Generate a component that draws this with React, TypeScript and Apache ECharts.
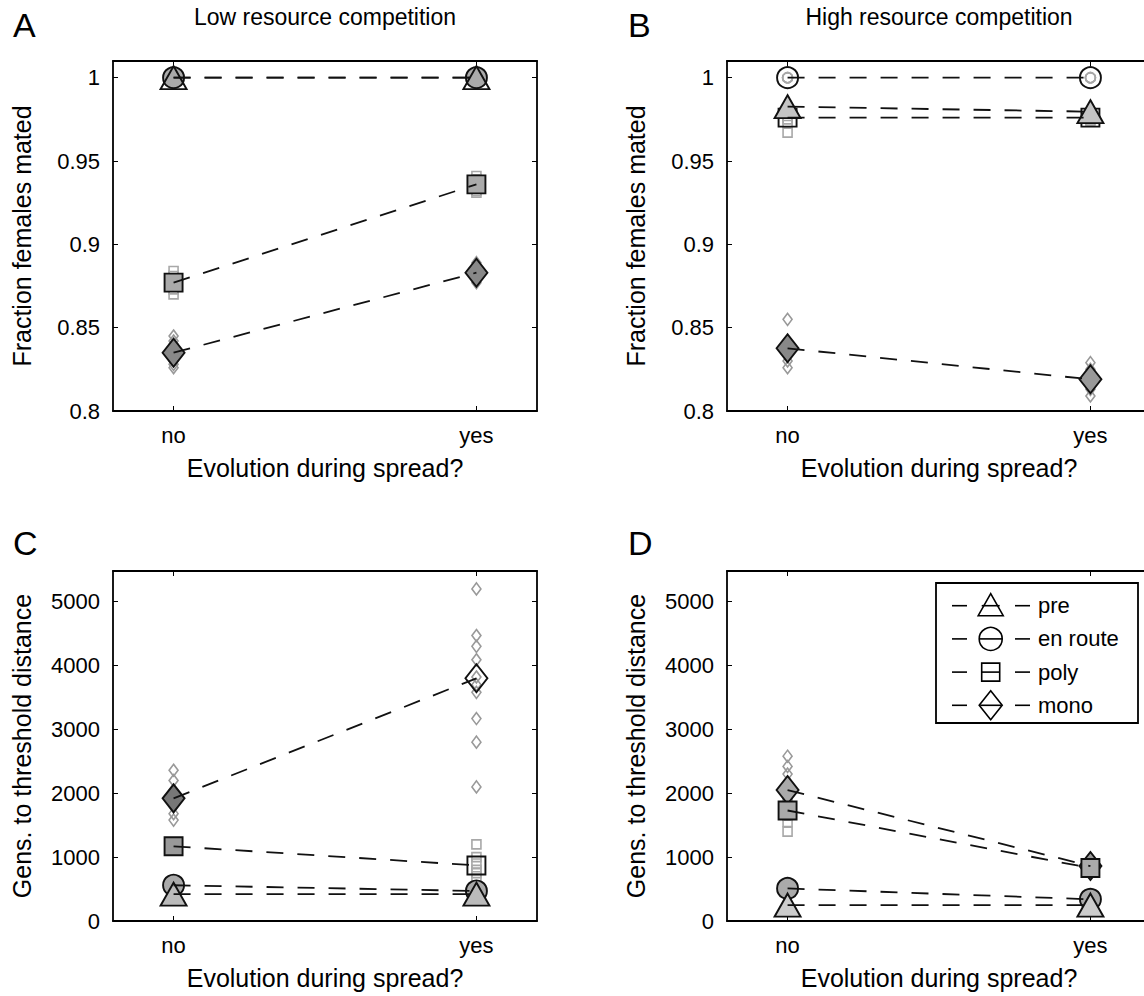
import React, { useEffect, useRef } from "react";
import * as echarts from "echarts";

// ---------- data ----------
const categories = ["no", "yes"];
const xPositions = [0, 1];
const groupNames = ["pre", "en route", "poly", "mono"];
const panelTitles = ["Low resource competition", "High resource competition"];
const panelLetters = ["A", "B", "C", "D"];
const yNames = ["Fraction females mated", "Fraction females mated", "Gens. to threshold distance", "Gens. to threshold distance"];
const xName = "Evolution during spread?";
const fracTicks = [0.8, 0.85, 0.9, 0.95, 1];
const gensTicks = [0, 1000, 2000, 3000, 4000, 5000];

// Panel A (low competition, fraction mated)
const aPreMean = [1.0, 1.0];
const aPreNo = [1.0, 1.0, 1.0];
const aPreYes = [1.0, 1.0, 1.0];
const aEnrouteMean = [1.0, 1.0];
const aEnrouteNo = [1.0, 1.0, 1.0];
const aEnrouteYes = [1.0, 1.0, 1.0];
const aPolyMean = [0.877, 0.936];
const aPolyNo = [0.884, 0.881, 0.879, 0.877, 0.876, 0.875, 0.873, 0.870];
const aPolyYes = [0.941, 0.939, 0.937, 0.935, 0.934, 0.932, 0.931];
const aMonoMean = [0.835, 0.883];
const aMonoNo = [0.845, 0.842, 0.840, 0.837, 0.834, 0.832, 0.830, 0.828, 0.826];
const aMonoYes = [0.889, 0.887, 0.885, 0.883, 0.881, 0.879, 0.877];

// Panel B (high competition, fraction mated)
const bPreMean = [0.9826, 0.9796];
const bPreNo = [0.986, 0.984, 0.982, 0.980, 0.979];
const bPreYes = [0.983, 0.981, 0.979, 0.977];
const bEnrouteMean = [1.0, 1.0];
const bEnrouteNo = [1.0, 1.0, 1.0];
const bEnrouteYes = [1.0, 1.0, 1.0];
const bPolyMean = [0.976, 0.976];
const bPolyNo = [0.979, 0.977, 0.975, 0.973, 0.967];
const bPolyYes = [0.978, 0.976, 0.975, 0.974];
const bMonoMean = [0.8376, 0.819];
const bMonoNo = [0.855, 0.842, 0.839, 0.836, 0.833, 0.830, 0.826];
const bMonoYes = [0.829, 0.825, 0.822, 0.819, 0.816, 0.813, 0.809];

// Panel C (low competition, generations)
const cPreMean = [420, 420];
const cPreNo = [380, 400, 430, 450];
const cPreYes = [410, 430, 440];
const cEnrouteMean = [560, 470];
const cEnrouteNo = [520, 560, 600];
const cEnrouteYes = [440, 460, 490];
const cPolyMean = [1170, 870];
const cPolyNo = [1120, 1160, 1200, 1220];
const cPolyYes = [1200, 1000, 900, 800, 750, 700];
const cMonoMean = [1920, 3800];
const cMonoNo = [2360, 2200, 2000, 1900, 1800, 1680, 1580];
const cMonoYes = [5200, 4470, 4300, 4090, 3820, 3700, 3580, 3170, 2800, 2100];

// Panel D (high competition, generations)
const dPreMean = [250, 250];
const dPreNo = [230, 260, 280];
const dPreYes = [240, 260];
const dEnrouteMean = [510, 340];
const dEnrouteNo = [480, 520, 540];
const dEnrouteYes = [320, 350, 360];
const dPolyMean = [1730, 830];
const dPolyNo = [1400, 1550, 1650, 1800, 1900, 2000];
const dPolyYes = [780, 820, 860, 900];
const dMonoMean = [2050, 860];
const dMonoNo = [2580, 2420, 2300, 2150, 1950, 1850];
const dMonoYes = [980, 920, 860, 800, 740];

// ---------- styles ----------
const FONT = "'Liberation Sans', Arial, Helvetica, sans-serif";
const T = "rgba(0,0,0,0)";
const TICK_FS = 22;
const NAME_FS = 25;
const shapes = ["triangle", "circle", "rect", "diamond"];
const meanSizes: any[] = [[26, 23], 21, 18, [22, 28]];
const repSizes: any[] = [[11, 10], 10, 9, [9, 12]];
const repColors = ["#a8a8a8", "#a8a8a8", "#a8a8a8", "#999999"];
const meanFills = [
  [[T, T], ["#aaa", "#aaa"], ["#aaa", "#aaa"], ["#888", "#888"]],
  [["#c4c4c4", "#c4c4c4"], [T, T], [T, T], ["#888", "#999"]],
  [["#bbb", "#bbb"], ["#aaa", "#aaa"], ["#999", T], ["#777", T]],
  [["#ccc", "#ccc"], ["#aaa", "#aaa"], ["#aaa", "#aaa"], ["#aaa", "#999"]],
];
const grids = [
  { left: 113, top: 61, width: 424, height: 350 },
  { left: 727, top: 61, width: 424, height: 350 },
  { left: 113, top: 571, width: 424, height: 350 },
  { left: 727, top: 571, width: 424, height: 350 },
];
const yRanges = [[0.8, 1.01], [0.8, 1.01], [0, 5480], [0, 5480]];

const panels = [
  {
    means: [aPreMean, aEnrouteMean, aPolyMean, aMonoMean],
    no: [aPreNo, aEnrouteNo, aPolyNo, aMonoNo],
    yes: [aPreYes, aEnrouteYes, aPolyYes, aMonoYes],
  },
  {
    means: [bPreMean, bEnrouteMean, bPolyMean, bMonoMean],
    no: [bPreNo, bEnrouteNo, bPolyNo, bMonoNo],
    yes: [bPreYes, bEnrouteYes, bPolyYes, bMonoYes],
  },
  {
    means: [cPreMean, cEnrouteMean, cPolyMean, cMonoMean],
    no: [cPreNo, cEnrouteNo, cPolyNo, cMonoNo],
    yes: [cPreYes, cEnrouteYes, cPolyYes, cMonoYes],
  },
  {
    means: [dPreMean, dEnrouteMean, dPolyMean, dMonoMean],
    no: [dPreNo, dEnrouteNo, dPolyNo, dMonoNo],
    yes: [dPreYes, dEnrouteYes, dPolyYes, dMonoYes],
  },
];

const textStyle = { color: "#000", fontFamily: FONT };

function buildOption() {
  const xAxis: any[] = [];
  const yAxis: any[] = [];
  const series: any[] = [];
  grids.forEach((g, p) => {
    const ticks = p < 2 ? fracTicks : gensTicks;
    xAxis.push({
      type: "value", gridIndex: p, position: "bottom", min: -0.2, max: 1.2,
      splitLine: { show: false },
      axisLine: { show: true, onZero: false, lineStyle: { color: "#000", width: 1.8 } },
      axisTick: { show: true, inside: true, length: 5, customValues: xPositions, lineStyle: { color: "#000", width: 1 } },
      axisLabel: { customValues: xPositions, formatter: (v: number) => categories[Math.round(v)], margin: 13, fontSize: TICK_FS, ...textStyle },
      name: xName, nameLocation: "middle", nameGap: 44, nameTextStyle: { fontSize: NAME_FS, ...textStyle },
    });
    xAxis.push({
      type: "value", gridIndex: p, position: "top", min: -0.2, max: 1.2,
      splitLine: { show: false },
      axisLine: { show: true, onZero: false, lineStyle: { color: "#000", width: 1.8 } },
      axisTick: { show: true, inside: true, length: 5, customValues: xPositions, lineStyle: { color: "#000", width: 1 } },
      axisLabel: { show: false },
    });
    yAxis.push({
      type: "value", gridIndex: p, position: "left", min: yRanges[p][0], max: yRanges[p][1],
      splitLine: { show: false },
      axisLine: { show: true, onZero: false, lineStyle: { color: "#000", width: 1.8 } },
      axisTick: { show: true, inside: true, length: 5, customValues: ticks, lineStyle: { color: "#000", width: 1 } },
      axisLabel: { customValues: ticks, formatter: (v: number) => String(Number(v.toFixed(2))), margin: 13, fontSize: TICK_FS, ...textStyle },
      name: yNames[p], nameLocation: "middle", nameGap: 79, nameRotate: 90, nameTextStyle: { fontSize: NAME_FS, ...textStyle },
    });
    yAxis.push({
      type: "value", gridIndex: p, position: "right", min: yRanges[p][0], max: yRanges[p][1],
      splitLine: { show: false },
      axisLine: { show: true, onZero: false, lineStyle: { color: "#000", width: 1.8 } },
      axisTick: { show: true, inside: true, length: 5, customValues: ticks, lineStyle: { color: "#000", width: 1 } },
      axisLabel: { show: false },
    });
    const panel = panels[p];
    const order = [3, 2, 1, 0];
    order.forEach((gi) => {
      const reps = panel.no[gi].map((v) => [0, v]).concat(panel.yes[gi].map((v) => [1, v]));
      series.push({
        type: "scatter", name: groupNames[gi] + " reps", xAxisIndex: 2 * p, yAxisIndex: 2 * p, z: 2,
        symbol: shapes[gi], symbolSize: repSizes[gi], data: reps, silent: true,
        itemStyle: { color: T, borderColor: repColors[gi], borderWidth: 1.6, opacity: 1 },
      });
    });
    order.forEach((gi) => {
      const m = panel.means[gi];
      series.push({
        type: "scatter", name: groupNames[gi], xAxisIndex: 2 * p, yAxisIndex: 2 * p, z: 3,
        symbol: shapes[gi], symbolSize: meanSizes[gi], silent: true,
        data: xPositions.map((x, i) => ({ value: [x, m[i]], itemStyle: { color: meanFills[p][gi][i] } })),
        itemStyle: { borderColor: "#111", borderWidth: 1.9, opacity: 1 },
      });
    });
    order.forEach((gi) => {
      const m = panel.means[gi];
      series.push({
        type: "line", name: groupNames[gi] + " line", xAxisIndex: 2 * p, yAxisIndex: 2 * p, z: 4,
        symbol: "none", silent: true,
        data: xPositions.map((x, i) => [x, m[i]]),
        lineStyle: { color: "#111", width: 1.8, type: [17, 14] },
      });
    });
  });

  const graphic: any[] = [];
  const letterPos = [[13, 8], [628, 8], [13, 526], [628, 526]];
  panelLetters.forEach((L, i) => {
    graphic.push({ type: "text", left: letterPos[i][0], top: letterPos[i][1], style: { text: L, fontSize: 34, fill: "#000", fontFamily: FONT } });
  });
  graphic.push({ type: "text", x: 325, y: 17, style: { text: panelTitles[0], fontSize: 23, fill: "#000", fontFamily: FONT, align: "center", verticalAlign: "middle" } });
  graphic.push({ type: "text", x: 939, y: 17, style: { text: panelTitles[1], fontSize: 23, fill: "#000", fontFamily: FONT, align: "center", verticalAlign: "middle" } });

  // legend (panel D)
  const lx = 936, ly = 583, lw = 202, lh = 140;
  graphic.push({ type: "rect", shape: { x: lx, y: ly, width: lw, height: lh }, style: { fill: "#fff", stroke: "#000", lineWidth: 1.8 }, z: 10 });
  groupNames.forEach((name, i) => {
    const cy = 605.7 + i * 33.2;
    const cx = 990.7;
    const lineStyle = { stroke: "#000", lineWidth: 1.6 };
    graphic.push({ type: "line", shape: { x1: 952, y1: cy, x2: 967, y2: cy }, style: lineStyle, z: 11 });
    graphic.push({ type: "line", shape: { x1: 1015, y1: cy, x2: 1030, y2: cy }, style: lineStyle, z: 11 });
    const mStyle = { fill: "#fff", stroke: "#000", lineWidth: 1.6 };
    if (i === 0) {
      graphic.push({ type: "polygon", shape: { points: [[cx, cy - 12], [cx - 12.5, cy + 10], [cx + 12.5, cy + 10]] }, style: mStyle, z: 11 });
    } else if (i === 1) {
      graphic.push({ type: "circle", shape: { cx, cy, r: 11.5 }, style: mStyle, z: 11 });
    } else if (i === 2) {
      graphic.push({ type: "rect", shape: { x: cx - 9, y: cy - 9, width: 18, height: 18 }, style: mStyle, z: 11 });
    } else {
      graphic.push({ type: "polygon", shape: { points: [[cx, cy - 14.5], [cx + 11.5, cy], [cx, cy + 14.5], [cx - 11.5, cy]] }, style: mStyle, z: 11 });
    }
    const half = i === 0 ? 9 : i === 3 ? 10.5 : i === 2 ? 9 : 11.5;
    graphic.push({ type: "line", shape: { x1: cx - half, y1: cy, x2: cx + half, y2: cy }, style: lineStyle, z: 12 });
    graphic.push({ type: "text", x: 1038, y: cy, style: { text: name, fontSize: 22, fill: "#000", fontFamily: FONT, verticalAlign: "middle" }, z: 12 });
  });

  return {
    animation: false,
    backgroundColor: "#fff",
    grid: grids.map((g) => ({ ...g, containLabel: false, outerBoundsMode: "none" })),
    xAxis,
    yAxis,
    series,
    graphic,
  };
}

export default function App() {
  const ref = useRef<HTMLDivElement>(null);
  useEffect(() => {
    if (!ref.current) return;
    const chart = echarts.init(ref.current, null, { renderer: "svg" });
    chart.setOption(buildOption() as any);
    return () => chart.dispose();
  }, []);
  return (
    <div
      ref={ref}
      style={{ position: "fixed", left: 0, top: 0, width: 1144, height: 996, background: "#fff" }}
    />
  );
}
